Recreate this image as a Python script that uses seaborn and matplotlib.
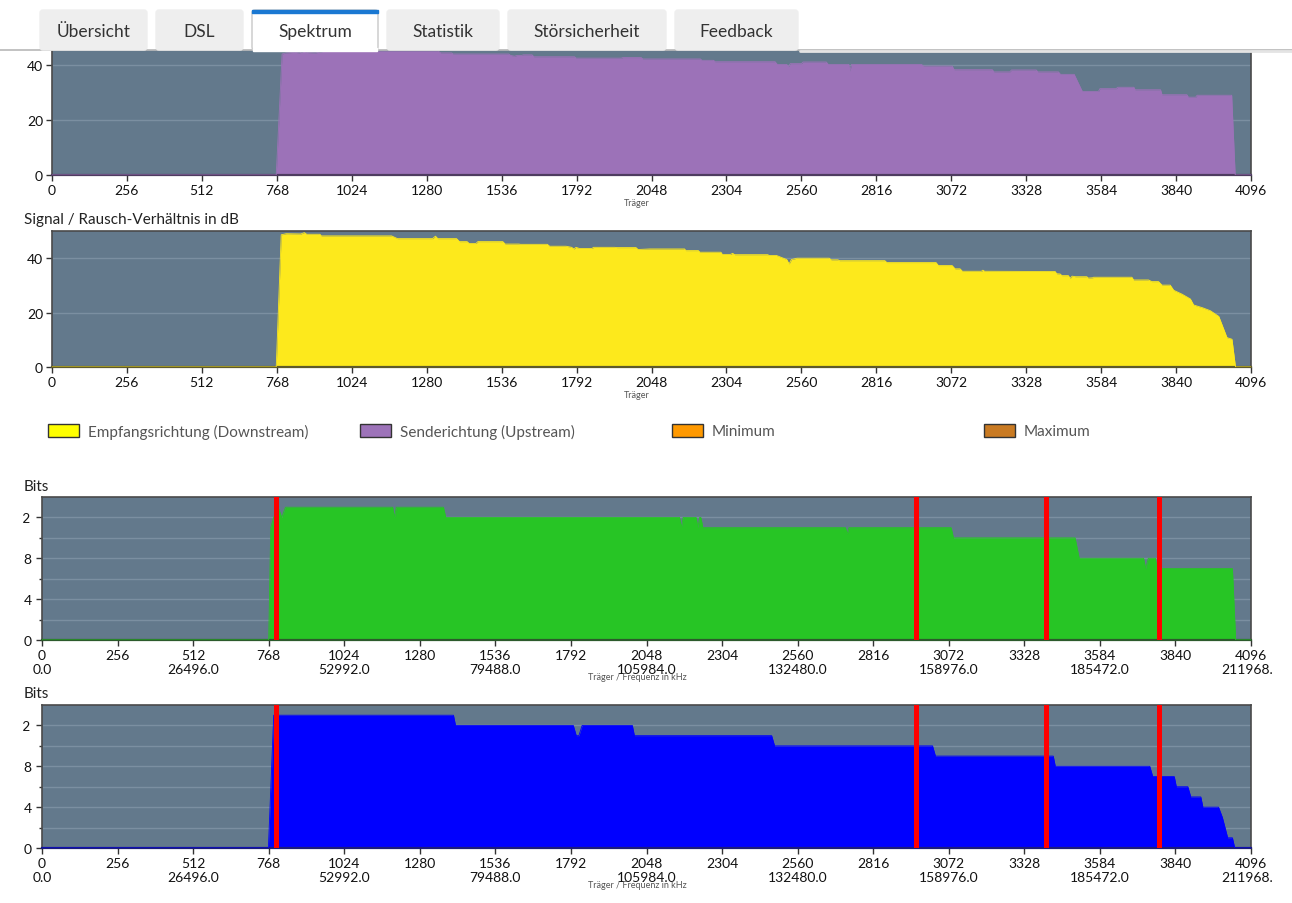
import matplotlib
matplotlib.use("Agg")
import matplotlib.pyplot as plt
from matplotlib.patches import Rectangle, FancyBboxPatch
import seaborn as sns

# ==========================================
# Data read off the FRITZ!Box spectrum page
# ==========================================
W, H = 1292, 904

carrier_ticks = list(range(0, 4097, 256))
freq_tick_labels = ["0.0", "26496.0", "52992.0", "79488.0", "105984.0",
                    "132480.0", "158976.0", "185472.0", "211968.0"]

# upstream SNR (purple), carrier -> dB
us_carrier = [0, 766, 786, 800, 830, 845, 860, 875, 900, 929, 1320, 1328, 1365, 1370,
              1560, 1566, 1580, 1590, 1605, 1610, 1640, 1646, 1785, 1790, 1945, 1950,
              2013, 2018, 2215, 2220, 2260, 2265, 2470, 2478, 2510, 2516, 2522, 2560,
              2566, 2645, 2652, 2722, 2726, 2731, 2970, 2978, 3075, 3082, 3212, 3218,
              3272, 3278, 3362, 3368, 3438, 3445, 3492, 3517, 3520, 3575, 3580, 3636,
              3640, 3696, 3700, 3787, 3792, 3877, 3882, 3907, 3912, 4030, 4042, 4096]
us_snr = [0, 0, 44.0, 44.4, 44.6, 44.4, 45.0, 44.5, 44.4, 45.0, 45.0, 44.4, 44.4, 44.0,
          44.0, 43.5, 43.2, 43.5, 43.5, 43.7, 43.7, 43.0, 43.0, 42.5, 42.5, 42.7,
          42.7, 42.2, 42.2, 41.7, 41.7, 41.2, 41.2, 40.2, 40.2, 39.4, 40.5, 40.5,
          41.1, 41.1, 40.2, 40.2, 37.8, 40.2, 40.2, 39.6, 39.6, 38.3, 38.3, 37.5,
          37.5, 38.2, 38.2, 37.5, 37.5, 36.6, 36.6, 31.0, 30.4, 30.4, 31.4, 31.4,
          31.9, 31.9, 31.0, 31.0, 29.2, 29.2, 28.3, 28.3, 29.0, 29.0, 0, 0]

# downstream SNR (yellow), carrier -> dB
ds_carrier = [0, 766, 783, 800, 850, 862, 870, 915, 920, 1160, 1180, 1300, 1310, 1318,
              1382, 1392, 1418, 1425, 1448, 1455, 1540, 1548, 1595, 1600, 1692, 1700,
              1756, 1775, 1783, 1790, 1801, 1845, 1850, 1922, 1930, 1995, 2002, 2042,
              2161, 2165, 2208, 2213, 2285, 2290, 2318, 2325, 2332, 2445, 2450, 2475,
              2510, 2518, 2526, 2545, 2655, 2662, 2685, 2690, 2845, 2852, 3020, 3028,
              3075, 3085, 3102, 3110, 3175, 3180, 3186, 3427, 3432, 3444, 3450, 3472,
              3478, 3485, 3496, 3535, 3540, 3555, 3558, 3689, 3695, 3746, 3757, 3780,
              3792, 3820, 3832, 3860, 3889, 3900, 3930, 3957, 3986, 4014, 4031, 4043, 4096]
ds_snr = [0, 0, 48.6, 49.0, 48.9, 49.4, 48.8, 48.8, 48.2, 48.2, 47.2, 47.2, 48.1, 47.2,
          47.2, 46.1, 46.1, 45.4, 45.4, 46.1, 46.1, 45.2, 45.2, 45.1, 45.1, 44.4,
          44.4, 44.0, 43.4, 44.0, 43.6, 43.6, 44.0, 44.0, 43.9, 43.9, 43.2, 43.4,
          43.4, 42.8, 42.8, 42.2, 42.2, 41.4, 41.4, 41.8, 41.3, 41.3, 41.0, 41.0,
          39.5, 37.9, 39.5, 40.0, 40.0, 39.4, 39.4, 39.1, 39.1, 38.4, 38.4, 37.3,
          37.3, 36.1, 36.1, 35.2, 35.2, 35.6, 35.2, 35.1, 34.3, 34.2, 33.6, 33.6,
          32.6, 33.4, 33.2, 33.2, 32.7, 32.8, 33.0, 33.0, 32.0, 32.0, 31.4, 31.4,
          30.1, 30.1, 28.2, 26.8, 25.0, 22.8, 21.8, 20.7, 18.6, 10.8, 10.2, 0, 0]

# bits per carrier, downstream (green)
bits_g_carrier = [0, 768, 775, 785, 800, 812, 825, 1188, 1194, 1200, 1360, 1368, 2160,
                  2166, 2172, 2216, 2222, 2228, 2232, 2239, 2722, 2728, 2734, 3080, 3088,
                  3500, 3514, 3732, 3739, 3748, 3772, 3778, 4033, 4044, 4096]
bits_g = [0, 0, 11, 12, 13, 12, 13, 13, 12, 13, 13, 12, 12,
          11, 12, 12, 11, 12, 12, 11, 11, 10.4, 11, 11, 10,
          10, 8, 8, 7, 8, 8, 7, 7, 0, 0]

# bits per carrier, second bit loading (blue)
bits_b_carrier = [0, 767, 785, 1394, 1401, 1800, 1810, 1819, 1830, 2000, 2007, 2472,
                  2482, 3017, 3027, 3426, 3433, 3753, 3763, 3836, 3843, 3882, 3892,
                  3926, 3933, 3986, 3999, 4017, 4033, 4041, 4096]
bits_b = [0, 0, 13, 13, 12, 12, 11, 11, 12, 12, 11, 11,
          10, 10, 9, 9, 8, 8, 7, 7, 6, 6, 5,
          5, 4, 4, 3, 1, 1, 0, 0]

# band borders (red markers)
band_edges = [792, 2961, 3400, 3783]

legend_labels = ["Empfangsrichtung (Downstream)", "Senderichtung (Upstream)", "Minimum", "Maximum"]
legend_colors = ["#ffff00", "#9d73b9", "#ff9900", "#c97a22"]

tab_labels = ["Übersicht", "DSL", "Spektrum", "Statistik", "Störsicherheit", "Feedback"]

# ==========================================
# Style
# ==========================================
BG = "#63798c"
GRID = "#7b8fa1"
sns.set_style("ticks")
plt.rcParams["font.family"] = ["Lato", "DejaVu Sans"]
plt.rcParams["text.color"] = "#222222"

fig = plt.figure(figsize=(W / 100, H / 100), dpi=100)


def px_axes(left, top, right, bottom):
    return fig.add_axes([left / W, 1 - bottom / H, (right - left) / W, (bottom - top) / H])


def style_panel(ax, ymax, yticks, spine_col, minor=None, two_rows=False, ypad=2.5):
    ax.set_facecolor(BG)
    ax.set_xlim(0, 4096)
    ax.set_ylim(0, ymax)
    ax.set_yticks(yticks)
    ax.set_yticklabels([str(v) for v in yticks])
    if minor is not None:
        ax.set_yticks(minor, minor=True)
    ax.set_xticks(carrier_ticks)
    if two_rows:
        labels = []
        for i, c in enumerate(carrier_ticks):
            labels.append(f"{c}\n{freq_tick_labels[i // 2]}" if i % 2 == 0 else str(c))
        ax.set_xticklabels(labels)
    else:
        ax.set_xticklabels([str(c) for c in carrier_ticks])
    ax.grid(axis="y", which="both", color=GRID, lw=1)
    ax.grid(axis="x", visible=False)
    ax.set_axisbelow(True)
    ax.tick_params(axis="both", which="major", length=4, width=1, color="#333333",
                   labelsize=10, pad=2.5, labelcolor="#111111")
    ax.tick_params(axis="y", which="major", pad=ypad)
    ax.tick_params(axis="y", which="minor", length=2, width=1, color="#333333")
    for s in ax.spines.values():
        s.set_color("#4a4a4a")
        s.set_linewidth(1.2)
    ax.spines["bottom"].set_color(spine_col)
    ax.spines["bottom"].set_linewidth(1.6)
    ax.set_xlabel("")
    ax.set_ylabel("")


def draw_series(ax, xs, ys, color):
    ax.fill_between(xs, ys, 0, color=color, lw=0, zorder=2)
    sns.lineplot(x=xs, y=ys, ax=ax, color=color, lw=0.6, estimator=None, sort=False, zorder=3)


# panel 1: upstream SNR
ax1 = px_axes(52, 38.5, 1251, 176)
draw_series(ax1, us_carrier, us_snr, "#9c72b8")
style_panel(ax1, 50, [0, 20, 40], "#4e3c60")

# panel 2: downstream SNR
ax2 = px_axes(52, 232, 1251, 368)
draw_series(ax2, ds_carrier, ds_snr, "#fde91c")
style_panel(ax2, 50, [0, 20, 40], "#5e5a2a")

# panel 3: bits green
ax3 = px_axes(42, 498, 1251, 641)
draw_series(ax3, bits_g_carrier, bits_g, "#27c525")
for c in band_edges:
    ax3.axvline(c, color="#ff0000", lw=3.6, zorder=4)
style_panel(ax3, 14, [0, 4, 8, 12], "#2c5a2c", minor=[2, 6, 10], two_rows=True, ypad=3.5)

# panel 4: bits blue
ax4 = px_axes(42, 706, 1251, 849)
draw_series(ax4, bits_b_carrier, bits_b, "#0000ff")
for c in band_edges:
    ax4.axvline(c, color="#ff0000", lw=3.6, zorder=4)
style_panel(ax4, 14, [0, 4, 8, 12], "#1c1c7a", minor=[2, 6, 10], two_rows=True, ypad=3.5)

# ==========================================
# Overlay in pixel coordinates (page chrome)
# ==========================================
ov = fig.add_axes([0, 0, 1, 1], zorder=10)
ov.set_xlim(0, W)
ov.set_ylim(H, 0)
ov.axis("off")
ov.patch.set_alpha(0)

# white page area over the top of panel 1 and the clipped page edges
ov.add_patch(Rectangle((0, 0), W, 50, color="white", zorder=1))
ov.add_patch(Rectangle((0, 480), 22, 420, color="white", zorder=1))
ov.add_patch(Rectangle((1273, 645), 20, 260, color="white", zorder=1))
ov.plot([0, W], [50.5, 50.5], color="#b8b8b8", lw=1.2, zorder=2)
ov.plot([800, W], [52, 52], color="#e4e4e4", lw=2, zorder=2)

tab_pos = [(40, 147), (156, 243), (252, 378), (387, 499), (508, 666), (675, 798)]
for (x0, x1), lab in zip(tab_pos, tab_labels):
    active = lab == "Spektrum"
    box = FancyBboxPatch((x0, 11), x1 - x0, 40, boxstyle="round,pad=0,rounding_size=3",
                         facecolor="white" if active else "#eeeeee",
                         edgecolor="#c8c8c8" if active else "#eeeeee", lw=1, zorder=3)
    ov.add_patch(box)
    if active:
        ov.add_patch(Rectangle((x0, 11), x1 - x0, 3, color="#1a78d2", zorder=4))
        ov.add_patch(Rectangle((x0 + 1, 49), x1 - x0 - 2, 3, color="white", zorder=4))
    ov.text((x0 + x1) / 2, 32, lab, ha="center", va="center", fontsize=12.5,
            color="#333333", zorder=5)

ov.text(24, 220, "Signal / Rausch-Verhältnis in dB", ha="left", va="center", fontsize=11,
        color="#222222")
ov.text(24, 487, "Bits", ha="left", va="center", fontsize=11, color="#222222", zorder=3)
ov.text(24, 694, "Bits", ha="left", va="center", fontsize=11, color="#222222", zorder=3)

ov.text(637, 204, "Träger", ha="center", va="center", fontsize=6.5, color="#555555")
ov.text(637, 396, "Träger", ha="center", va="center", fontsize=6.5, color="#555555")
ov.text(637, 678, "Träger / Frequenz in kHz", ha="center", va="center", fontsize=6.5,
        color="#555555")
ov.text(637, 886, "Träger / Frequenz in kHz", ha="center", va="center", fontsize=6.5,
        color="#555555")

legend_x = [48, 360, 672, 984]
for x0, lab, col in zip(legend_x, legend_labels, legend_colors):
    ov.add_patch(Rectangle((x0, 425), 31, 13, facecolor=col, edgecolor="#333333", lw=1))
    ov.text(x0 + 40, 432, lab, ha="left", va="center", fontsize=11, color="#555555")

fig.savefig("out.png", dpi=100)
